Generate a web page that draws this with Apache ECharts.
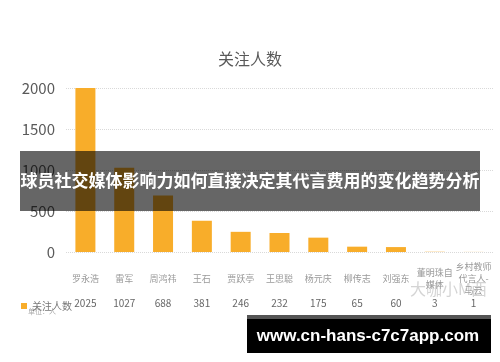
<!DOCTYPE html>
<html><head><meta charset="utf-8">
<script src="https://cdn.jsdelivr.net/npm/echarts@6/dist/echarts.min.js"></script>
<style>html,body{margin:0;padding:0;background:#fff}#c{width:500px;height:362px}</style>
</head><body><div id="c"></div>
<script>
const categories = ['罗永浩','雷军','周鸿祎','王石','贾跃亭','王思聪','杨元庆','柳传志','刘强东','董明珠自\n媒体','乡村教师\n代言人-\n马云'];
const followers = [2025, 1027, 688, 381, 246, 232, 175, 65, 60, 3, 1];
const yTicks = [0, 500, 1000, 1500, 2000];
const seriesName = '关注人数';
const chartTitle = '关注人数';
const bannerText = '球员社交媒体影响力如何直接决定其代言费用的变化趋势分析';
const siteText = 'www.cn-hans-c7c7app.com';

const font = '"Noto Sans CJK SC", "Noto Sans", sans-serif';
const chart = echarts.init(document.getElementById('c'));
chart.setOption({
  animation: false,
  backgroundColor: '#fff',
  textStyle: { fontFamily: font },
  title: { text: chartTitle, left: 'center', top: 46, textStyle: { fontSize: 16, fontWeight: 'normal', color: '#595959', fontFamily: font } },
  legend: { data: [seriesName], left: 16, top: 296, icon: 'rect', itemWidth: 6, itemHeight: 6, itemGap: 4,
    textStyle: { fontSize: 10, color: '#777', fontFamily: font } },
  grid: { left: 66, right: 7, top: 88, bottom: 110, containLabel: false, outerBoundsMode: 'none' },
  xAxis: [
    { type: 'category', data: categories, axisLine: { show: false }, axisTick: { show: false },
      axisLabel: { interval: 0, margin: 27, fontSize: 9, color: '#999', lineHeight: 12, verticalAlign: 'middle', fontFamily: font } },
    { type: 'category', data: followers.map(String), position: 'bottom', offset: 38,
      axisLine: { show: false }, axisTick: { show: false },
      axisLabel: { interval: 0, margin: 8, fontSize: 10, color: '#666', fontFamily: font } }
  ],
  yAxis: { type: 'value', min: yTicks[0], max: yTicks[yTicks.length-1], interval: 500,
    name: '单位：人', nameLocation: 'middle', nameGap: 56, nameRotate: 90,
    nameTextStyle: { fontSize: 7, color: '#aaa', padding: [0, 0, 20, 0] },
    axisLine: { show: false }, axisTick: { show: false },
    axisLabel: { fontSize: 15, color: '#595959', margin: 11, fontFamily: font, formatter: v => String(v) },
    splitLine: { lineStyle: { type: 'dotted', color: '#d9d9d9' } } },
  series: [{ name: seriesName, type: 'bar', data: followers, barWidth: 20, itemStyle: { color: '#F8AD2A' } }],
  graphic: [
    { type: 'text', left: 28, top: 308, style: { text: '单位：人', fontSize: 7, fill: '#aaa', fontFamily: font } },
    { type: 'text', left: 410, top: 281, z: 50, style: { text: '大咖小M西', fontSize: 16, fill: 'rgba(160,160,160,0.45)', fontFamily: font } },
    { type: 'rect', shape: { x: 20, y: 151, width: 460, height: 60 }, z: 100, style: { fill: 'rgba(0,0,0,0.6)' } },
    { type: 'text', x: 250, y: 181, z: 101, style: { text: bannerText, fontSize: 17, fontWeight: 'bold', fill: '#fff', align: 'center', verticalAlign: 'middle', fontFamily: font } },
    { type: 'rect', shape: { x: 247, y: 315, width: 244, height: 4 }, z: 100, style: { fill: '#555' } },
    { type: 'rect', shape: { x: 247, y: 319, width: 244, height: 34 }, z: 100, style: { fill: '#000' } },
    { type: 'text', x: 368, y: 336, z: 101, style: { text: siteText, fontSize: 17, fontWeight: 'bold', fill: '#fff', align: 'center', verticalAlign: 'middle', fontFamily: '"Liberation Sans", sans-serif' } }
  ]
});
</script></body></html>
